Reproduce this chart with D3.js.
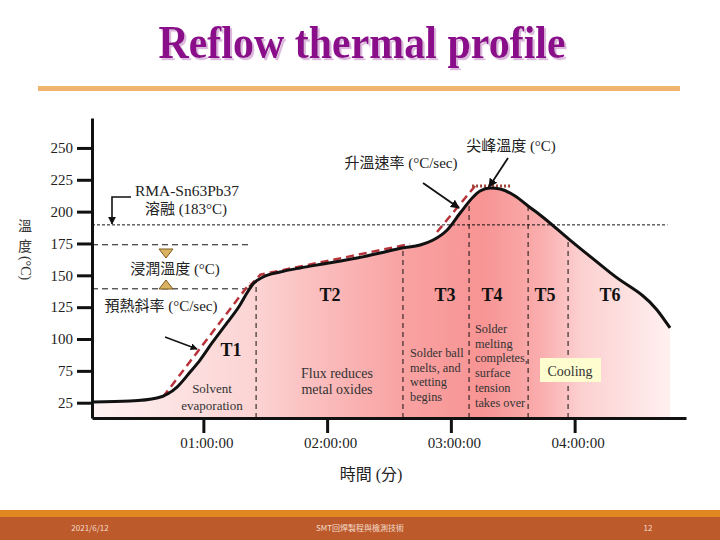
<!DOCTYPE html>
<html><head><meta charset="utf-8">
<script src="https://cdn.jsdelivr.net/npm/d3@7"></script>
<style>body{margin:0;background:#fff}svg{display:block}</style>
</head><body><svg id="c" width="720" height="540"></svg>
<script>
// ---- data (time in axis hours, temperature in axis units) ----
const curveTime = [0.108,0.407,0.625,0.787,0.893,0.973,1.070,1.191,1.296,1.352,1.401,1.482,1.620,1.782,1.967,2.242,2.428,2.605,2.752,2.857,2.970,3.075,3.180,3.236,3.317,3.398,3.519,3.624,3.721,3.963,4.311,4.666,4.771];
const curveTemp = [50.6,51.3,53.7,62.3,74.1,83.5,96.9,112.6,126.7,136.1,143.2,148.7,152.6,155.8,158.9,163.6,167.5,171.5,173.8,177.7,185.6,198.9,211.5,216.2,218.6,217.8,212.3,204.4,197.4,177.7,150.3,122.8,108.7];
const preheatTime = [0.674,1.377];
const preheatTemp = [54.5,144.0];
const soakTime = [1.37,1.46,2.67];
const soakTemp = [141.0,150.5,174.6];
const rampTime = [2.888,3.195];
const rampTemp = [184.0,220.1];
const peakTime = [3.171,3.494];
const peakTemp = [220.1,220.1];
const zoneBounds = [1.426,2.613,3.147,3.624,3.947];
const zoneNames = ["T1","T2","T3","T4","T5","T6"];
const refLevels = [189.6,174.0,139.4];
const refEnds = [4.75,1.38,1.36];
const yTickValues = [50,75,100,125,150,175,200,225,250];
const yTickLabels = ["25","75","100","125","150","175","200","225","250"];
const xTickValues = [1,2,3,4];
const xTickLabels = ["01:00:00","02:00:00","03:00:00","04:00:00"];

const svg = d3.select("#c");
const serif = "'Liberation Serif','Times New Roman',serif";
const cjk = "'Liberation Serif','Noto Sans CJK TC',serif";

const x = d3.scaleLinear().domain([0.1,4.9]).range([92,686]);
const y = d3.scaleLinear().domain([38,273.5]).range([418,118]);

const defs = svg.append("defs");
const sh = defs.append("filter").attr("id","tsh").attr("x","-5%").attr("y","-20%").attr("width","110%").attr("height","140%");
sh.append("feDropShadow").attr("dx",2).attr("dy",2).attr("stdDeviation",0.3).attr("flood-color","#dcb8dc").attr("flood-opacity",1);

// title
svg.append("text").attr("transform","translate(362,58) scale(1,1.1)").attr("text-anchor","middle")
  .attr("font-family",serif).attr("font-weight","bold").attr("font-size",42)
  .attr("fill","#8a0a8a").attr("filter","url(#tsh)").text("Reflow thermal profile");
svg.append("rect").attr("x",38).attr("y",86).attr("width",642).attr("height",5).attr("fill","#efb46e");

// footer
svg.append("rect").attr("x",0).attr("y",510).attr("width",720).attr("height",8).attr("fill","#e2861f");
svg.append("rect").attr("x",0).attr("y",517).attr("width",720).attr("height",23).attr("fill","#bd5a2b");
const ft = [[90,"2021/6/12"],[360,"SMT回焊製程與檢測技術"],[648,"12"]];
ft.forEach(d=>svg.append("text").attr("x",d[0]).attr("y",531).attr("text-anchor","middle")
  .attr("font-family","'Noto Sans CJK TC',sans-serif").attr("font-size",8).attr("fill","#f3dccb").text(d[1]));

// gradient
const g = defs.append("linearGradient").attr("id","fillg").attr("gradientUnits","userSpaceOnUse")
  .attr("x1",92).attr("x2",671).attr("y1",0).attr("y2",0);
[[0,"#fff3f3"],[0.12,"#fde4e4"],[0.284,"#fcd3d3"],[0.36,"#fbc3c3"],[0.538,"#f9a2a2"],[0.675,"#f89494"],[0.775,"#faadad"],[0.844,"#fcd0d0"],[1,"#fff0f0"]]
 .forEach(s=>g.append("stop").attr("offset",s[0]).attr("stop-color",s[1]));
const mk = defs.append("marker").attr("id","arr").attr("viewBox","0 0 10 10").attr("refX",9).attr("refY",5)
  .attr("markerWidth",5).attr("markerHeight",5).attr("orient","auto-start-reverse").attr("markerUnits","strokeWidth");
mk.append("path").attr("d","M0,0L10,5L0,10z").attr("fill","#111");

const pts = curveTime.map((t,i)=>[t,curveTemp[i]]);
const area = d3.area().x(d=>x(d[0])).y0(y(38)).y1(d=>y(d[1])).curve(d3.curveMonotoneX);
svg.append("path").attr("d",area(pts)).attr("fill","url(#fillg)");

function tempAt(t){
  const i = d3.bisectRight(curveTime,t);
  const a = Math.max(0,i-1), b = Math.min(curveTime.length-1,i);
  if(a===b) return curveTemp[a];
  const f=(t-curveTime[a])/(curveTime[b]-curveTime[a]);
  return curveTemp[a]+f*(curveTemp[b]-curveTemp[a]);
}
// zone boundaries
svg.selectAll(".zb").data(zoneBounds).enter().append("line")
  .attr("x1",d=>x(d)).attr("x2",d=>x(d)).attr("y1",y(38)).attr("y2",d=>y(tempAt(d)))
  .attr("stroke","#111").attr("stroke-width",1).attr("stroke-dasharray","5,4");
// ref lines
refLevels.forEach((v,i)=>svg.append("line").attr("x1",x(0.1)).attr("x2",x(refEnds[i]))
  .attr("y1",y(v)).attr("y2",y(v)).attr("stroke","#111").attr("stroke-width",1)
  .attr("stroke-dasharray", i===0?"3,2":"6,4"));

// red dashed guides
const ln = d3.line().x(d=>x(d[0])).y(d=>y(d[1]));
[[preheatTime,preheatTemp],[soakTime,soakTemp],[rampTime,rampTemp]].forEach(s=>{
  svg.append("path").attr("d",ln(s[0].map((t,i)=>[t,s[1][i]]))).attr("fill","none")
    .attr("stroke","#b8323a").attr("stroke-width",2.5).attr("stroke-dasharray","8,5");
});
svg.append("path").attr("d",ln(peakTime.map((t,i)=>[t,peakTemp[i]]))).attr("fill","none")
  .attr("stroke","#a04535").attr("stroke-width",3).attr("stroke-dasharray","2,2");

// main curve
svg.append("path").attr("d",d3.line().x(d=>x(d[0])).y(d=>y(d[1])).curve(d3.curveMonotoneX)(pts))
  .attr("fill","none").attr("stroke","#111").attr("stroke-width",3);

// axes
const ya = svg.append("g").attr("transform","translate(92,0)")
  .call(d3.axisLeft(y).tickValues(yTickValues).tickFormat((d,i)=>yTickLabels[i]).tickSize(15).tickSizeOuter(0).tickPadding(4));
const xa = svg.append("g").attr("transform","translate(0,418)")
  .call(d3.axisBottom(x).tickValues(xTickValues).tickFormat((d,i)=>xTickLabels[i]).tickSize(15).tickSizeOuter(0).tickPadding(4));
[ya,xa].forEach(a=>{
  a.select(".domain").attr("stroke","#111").attr("stroke-width",3);
  a.selectAll(".tick line").attr("stroke","#111").attr("stroke-width",3);
  a.selectAll(".tick text").attr("font-family",serif).attr("font-size",15).attr("fill","#222");
});
xa.selectAll(".tick text").attr("dx",3);

// axis titles
svg.append("text").attr("x",25).attr("y",226).attr("text-anchor","middle").attr("dominant-baseline","central")
  .attr("font-family",cjk).attr("font-size",14).attr("fill","#333").text("溫");
svg.append("text").attr("x",25).attr("y",246).attr("text-anchor","middle").attr("dominant-baseline","central")
  .attr("font-family",cjk).attr("font-size",14).attr("fill","#333").text("度");
svg.append("text").attr("transform","translate(25,268) rotate(90)").attr("text-anchor","middle").attr("dominant-baseline","central")
  .attr("font-family",serif).attr("font-size",14).attr("fill","#333").text("(°C)");
svg.append("text").attr("x",371).attr("y",474).attr("text-anchor","middle").attr("dominant-baseline","central")
  .attr("font-family",cjk).attr("font-size",16).attr("fill","#222").text("時間 (分)");

function T(xx,yy,s,size,opt={}){
  return svg.append("text").attr("x",xx).attr("y",yy).attr("text-anchor",opt.anchor||"middle")
    .attr("dominant-baseline","central").attr("font-family",opt.f||cjk).attr("font-size",size)
    .attr("font-weight",opt.w||"normal").attr("fill",opt.c||"#222").text(s);
}
// annotations
T(187,190,"RMA-Sn63Pb37",15.5);
T(186,209,"溶融 (183°C)",15);
T(175,269,"浸潤溫度 (°C)",15);
T(161,306,"預熱斜率 (°C/sec)",15);
T(401,163,"升溫速率 (°C/sec)",15);
T(511,146,"尖峰溫度 (°C)",15);

// triangles
svg.append("path").attr("d","M159,249L173,249L166,258Z").attr("fill","#d9b262").attr("stroke","#7a5a1a").attr("stroke-width",1);
svg.append("path").attr("d","M159,289L173,289L166,280Z").attr("fill","#d9b262").attr("stroke","#7a5a1a").attr("stroke-width",1);

// arrows
svg.append("path").attr("d","M131,197H112V224").attr("fill","none").attr("stroke","#111").attr("stroke-width",1.6).attr("marker-end","url(#arr)");
svg.append("line").attr("x1",165).attr("y1",337).attr("x2",197).attr("y2",349).attr("stroke","#111").attr("stroke-width",1.4).attr("marker-end","url(#arr)");
svg.append("line").attr("x1",423).attr("y1",183).attr("x2",459).attr("y2",208).attr("stroke","#111").attr("stroke-width",1.8).attr("marker-end","url(#arr)");
svg.append("line").attr("x1",508).attr("y1",158).attr("x2",489).attr("y2",187).attr("stroke","#111").attr("stroke-width",1.8).attr("marker-end","url(#arr)");

// zone labels
const zoneLabelX = [231,330,445,492,545,610];
zoneNames.forEach((n,i)=>T(zoneLabelX[i], i===0?350:295, n, 18, {f:serif,w:"bold",c:"#111"}));

T(212,388,"Solvent",13,{f:serif,c:"#333"});
T(212,405,"evaporation",13,{f:serif,c:"#333"});
T(337,373,"Flux reduces",14,{f:serif,c:"#333"});
T(337,389,"metal oxides",14,{f:serif,c:"#333"});
["Solder ball","melts, and","wetting","begins"].forEach((s,i)=>T(410,353+i*14.7,s,12.3,{f:serif,anchor:"start",c:"#333"}));
["Solder","melting","completes,","surface","tension","takes over"].forEach((s,i)=>T(475,329+i*14.7,s,12.3,{f:serif,anchor:"start",c:"#333"}));
svg.append("rect").attr("x",540).attr("y",358).attr("width",61).attr("height",24).attr("fill","#fdfdd0");
T(570,371,"Cooling",14,{f:serif,c:"#333"});
</script></body></html>
